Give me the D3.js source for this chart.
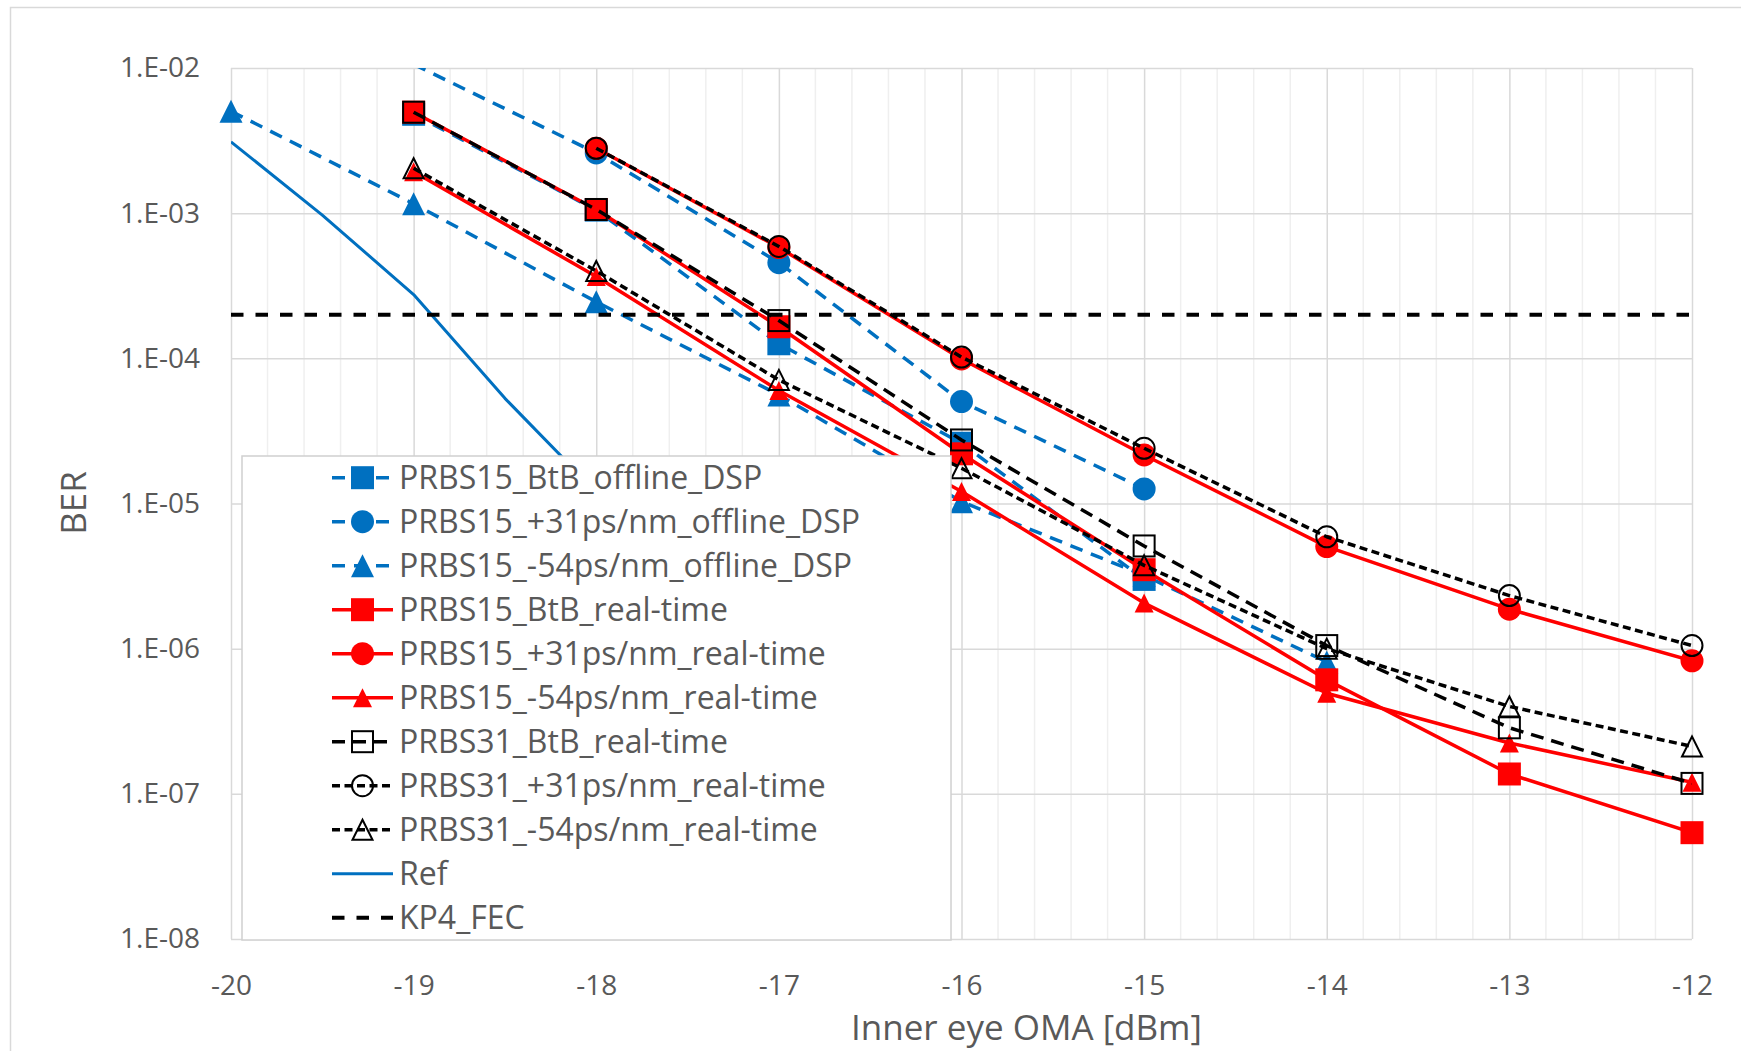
<!DOCTYPE html>
<html>
<head>
<meta charset="utf-8">
<script src="https://cdn.jsdelivr.net/npm/d3@7"></script>
<style>
  html, body { margin: 0; padding: 0; background: #fff; }
  svg { display: block; font-family: "Open Sans", "Noto Sans", sans-serif; }
</style>
</head>
<body>
<svg id="chart" width="1741" height="1051"></svg>
<script>
// ---- data ----
const xTickValues = [-20, -19, -18, -17, -16, -15, -14, -13, -12];
const xTickLabels = ["-20", "-19", "-18", "-17", "-16", "-15", "-14", "-13", "-12"];
const yTickValues = [1e-2, 1e-3, 1e-4, 1e-5, 1e-6, 1e-7, 1e-8];
const yTickLabels = ["1.E-02", "1.E-03", "1.E-04", "1.E-05", "1.E-06", "1.E-07", "1.E-08"];

const prbs15BtbOffline  = [[-19, 4.8e-3], [-18, 1.05e-3], [-17, 1.26e-4], [-16, 2.6e-5], [-15, 3.0e-6]];
const prbs15P31Offline  = [[-19, 1.06e-2], [-18, 2.6e-3], [-17, 4.56e-4], [-16, 5.04e-5], [-15, 1.26e-5]];
const prbs15M54Offline  = [[-20, 5.04e-3], [-19, 1.16e-3], [-18, 2.45e-4], [-17, 5.6e-5], [-16, 1.03e-5], [-15, 3.2e-6], [-14, 8.1e-7]];
const prbs15BtbRealTime = [[-19, 4.96e-3], [-18, 1.06e-3], [-17, 1.65e-4], [-16, 2.2e-5], [-15, 3.5e-6], [-14, 6.1e-7], [-13, 1.37e-7], [-12, 5.4e-8]];
const prbs15P31RealTime = [[-18, 2.8e-3], [-17, 5.8e-4], [-16, 9.9e-5], [-15, 2.16e-5], [-14, 5.05e-6], [-13, 1.87e-6], [-12, 8.25e-7]];
const prbs15M54RealTime = [[-19, 1.93e-3], [-18, 3.66e-4], [-17, 6.0e-5], [-16, 1.21e-5], [-15, 2.06e-6], [-14, 4.93e-7], [-13, 2.24e-7], [-12, 1.2e-7]];
const prbs31BtbRealTime = [[-19, 4.96e-3], [-18, 1.06e-3], [-17, 1.82e-4], [-16, 2.74e-5], [-15, 5.1e-6], [-14, 1.05e-6], [-13, 2.85e-7], [-12, 1.18e-7]];
const prbs31P31RealTime = [[-18, 2.8e-3], [-17, 5.9e-4], [-16, 1.02e-4], [-15, 2.4e-5], [-14, 5.9e-6], [-13, 2.32e-6], [-12, 1.05e-6]];
const prbs31M54RealTime = [[-19, 2.04e-3], [-18, 4.0e-4], [-17, 7.1e-5], [-16, 1.75e-5], [-15, 3.75e-6], [-14, 1.0e-6], [-13, 4.0e-7], [-12, 2.12e-7]];
const refCurve          = [[-20, 3.1e-3], [-19.5, 9.7e-4], [-19, 2.75e-4], [-18.5, 5.3e-5], [-18, 1.2e-5]];
const kp4FecLimit       = [[-20, 2e-4], [-12, 2e-4]];

const seriesNames = [
  "PRBS15_BtB_offline_DSP", "PRBS15_+31ps/nm_offline_DSP", "PRBS15_-54ps/nm_offline_DSP",
  "PRBS15_BtB_real-time", "PRBS15_+31ps/nm_real-time", "PRBS15_-54ps/nm_real-time",
  "PRBS31_BtB_real-time", "PRBS31_+31ps/nm_real-time", "PRBS31_-54ps/nm_real-time",
  "Ref", "KP4_FEC"
];
const xTitle = "Inner eye OMA [dBm]";
const yTitle = "BER";

// ---- styling ----
const BLUE = "#0070C0", RED = "#FF0000", BLACK = "#000000", TEXT = "#595959";
const series = [
  { data: prbs15BtbOffline,  color: BLUE,  width: 3.5, dash: "13,9",  marker: "square",   size: 23, open: false },
  { data: prbs15P31Offline,  color: BLUE,  width: 3.5, dash: "13,9",  marker: "circle",   size: 23, open: false },
  { data: prbs15M54Offline,  color: BLUE,  width: 3.5, dash: "13,9",  marker: "triangle", size: 23, open: false },
  { data: prbs15BtbRealTime, color: RED,   width: 3.5, dash: null,    marker: "square",   size: 23, open: false },
  { data: prbs15P31RealTime, color: RED,   width: 3.5, dash: null,    marker: "circle",   size: 23, open: false },
  { data: prbs15M54RealTime, color: RED,   width: 3.5, dash: null,    marker: "triangle", size: 19, open: false },
  { data: prbs31BtbRealTime, color: BLACK, width: 3.5, dash: "13,8",  marker: "square",   size: 21, open: true },
  { data: prbs31P31RealTime, color: BLACK, width: 3.5, dash: "8,4.5", marker: "circle",   size: 21, open: true },
  { data: prbs31M54RealTime, color: BLACK, width: 3.5, dash: "8,4.5", marker: "triangle", size: 20, open: true },
  { data: refCurve,          color: BLUE,  width: 3,   dash: null,    marker: null },
  { data: kp4FecLimit,       color: BLACK, width: 4,   dash: "12.5,12", marker: null }
];
series.forEach((s, i) => s.name = seriesNames[i]);

// ---- layout ----
const W = 1741, H = 1051;
const plot = { left: 231, right: 1692, top: 68, bottom: 939 };

const svg = d3.select("#chart");
svg.append("rect").attr("width", W).attr("height", H).attr("fill", "#fff");
// outer chart-area frame
svg.append("rect")
  .attr("x", 10.5).attr("y", 7.5).attr("width", W + 50).attr("height", H + 50)
  .attr("fill", "none").attr("stroke", "#d9d9d9").attr("stroke-width", 1.5);

const x = d3.scaleLinear().domain([-20, -12]).range([plot.left, plot.right]);
const y = d3.scaleLog().domain([1e-8, 1e-2]).range([plot.bottom, plot.top]);

// minor vertical gridlines every 0.2 dBm
const minorX = d3.range(-20, -12.0001, 0.2).filter(v => Math.abs(v - Math.round(v)) > 1e-6);
svg.append("g").selectAll("line").data(minorX).join("line")
  .attr("x1", d => x(d)).attr("x2", d => x(d))
  .attr("y1", plot.top).attr("y2", plot.bottom)
  .attr("stroke", "#efefef").attr("stroke-width", 1.5);

// major gridlines
const gridX = svg.append("g")
  .attr("transform", `translate(0,${plot.bottom})`)
  .call(d3.axisBottom(x).tickValues(xTickValues).tickSize(-(plot.bottom - plot.top)).tickFormat(""));
gridX.select(".domain").remove();
gridX.selectAll("line").attr("stroke", "#d9d9d9").attr("stroke-width", 1.5);

const gridY = svg.append("g")
  .attr("transform", `translate(${plot.left},0)`)
  .call(d3.axisLeft(y).tickValues(yTickValues).tickSize(-(plot.right - plot.left)).tickFormat(""));
gridY.select(".domain").remove();
gridY.selectAll("line").attr("stroke", "#d9d9d9").attr("stroke-width", 1.5);

// tick labels
const axY = svg.append("g")
  .attr("transform", `translate(${plot.left},0)`)
  .call(d3.axisLeft(y).tickValues(yTickValues).tickSize(0).tickPadding(31)
        .tickFormat((d, i) => yTickLabels[i]));
axY.select(".domain").remove();
axY.selectAll("text").attr("font-size", 28).attr("fill", TEXT).attr("font-family", "Open Sans");

const axX = svg.append("g")
  .attr("transform", `translate(0,${plot.bottom})`)
  .call(d3.axisBottom(x).tickValues(xTickValues).tickSize(0).tickPadding(36)
        .tickFormat((d, i) => xTickLabels[i]));
axX.select(".domain").remove();
axX.selectAll("text").attr("font-size", 28).attr("fill", TEXT).attr("font-family", "Open Sans");

// axis titles
svg.append("text")
  .attr("x", (plot.left + plot.right) / 2 + 65).attr("y", 1040)
  .attr("text-anchor", "middle").attr("font-size", 35).attr("fill", TEXT)
  .text(xTitle);
svg.append("text")
  .attr("transform", "translate(86,503) rotate(-90)")
  .attr("text-anchor", "middle").attr("font-size", 35).attr("fill", TEXT)
  .text(yTitle);

// clip for lines
svg.append("defs").append("clipPath").attr("id", "plotClip")
  .append("rect").attr("x", plot.left).attr("y", plot.top)
  .attr("width", plot.right - plot.left).attr("height", plot.bottom - plot.top);

function drawMarker(g, s, cx, cy) {
  const sz = s.size;
  const fill = s.open ? "none" : s.color;
  const stroke = s.open ? s.color : "none";
  const sw = s.open ? 2 : 0;
  if (s.marker === "square") {
    g.append("rect").attr("x", cx - sz / 2).attr("y", cy - sz / 2)
      .attr("width", sz).attr("height", sz)
      .attr("fill", fill).attr("stroke", stroke).attr("stroke-width", sw);
  } else if (s.marker === "circle") {
    g.append("circle").attr("cx", cx).attr("cy", cy).attr("r", sz / 2)
      .attr("fill", fill).attr("stroke", stroke).attr("stroke-width", sw);
  } else if (s.marker === "triangle") {
    const h = sz;
    g.append("path")
      .attr("d", `M${cx},${cy - h / 2}L${cx + sz / 2},${cy + h / 2}L${cx - sz / 2},${cy + h / 2}Z`)
      .attr("fill", fill).attr("stroke", stroke).attr("stroke-width", sw)
      .attr("stroke-linejoin", "miter");
  }
}

const line = d3.line().x(d => x(d[0])).y(d => y(d[1]));
const [yMin, yMax] = y.domain();

series.forEach(s => {
  const g = svg.append("g");
  g.append("path")
    .attr("d", line(s.data))
    .attr("clip-path", "url(#plotClip)")
    .attr("fill", "none")
    .attr("stroke", s.color)
    .attr("stroke-width", s.width)
    .attr("stroke-dasharray", s.dash)
    .attr("stroke-linejoin", "round");
  if (s.marker) {
    s.data.filter(d => d[1] >= yMin && d[1] <= yMax)
      .forEach(d => drawMarker(g, s, x(d[0]), y(d[1])));
  }
});

// legend
const legend = { left: 242, top: 456, right: 951, bottom: 940 };
const lg = svg.append("g");
lg.append("rect")
  .attr("x", legend.left).attr("y", legend.top)
  .attr("width", legend.right - legend.left).attr("height", legend.bottom - legend.top)
  .attr("fill", "#fff").attr("stroke", "#d0d0d0").attr("stroke-width", 1.5);

series.forEach((s, i) => {
  const cy = 477.7 + i * 44;
  const row = lg.append("g");
  row.append("line")
    .attr("x1", 332).attr("x2", 393).attr("y1", cy).attr("y2", cy)
    .attr("stroke", s.color).attr("stroke-width", s.width)
    .attr("stroke-dasharray", s.dash);
  if (s.marker) drawMarker(row, s, 362.5, cy);
  row.append("text")
    .attr("x", 399).attr("y", cy).attr("dy", "0.36em")
    .attr("font-size", 32).attr("fill", TEXT)
    .text(s.name);
});
</script>
</body>
</html>
